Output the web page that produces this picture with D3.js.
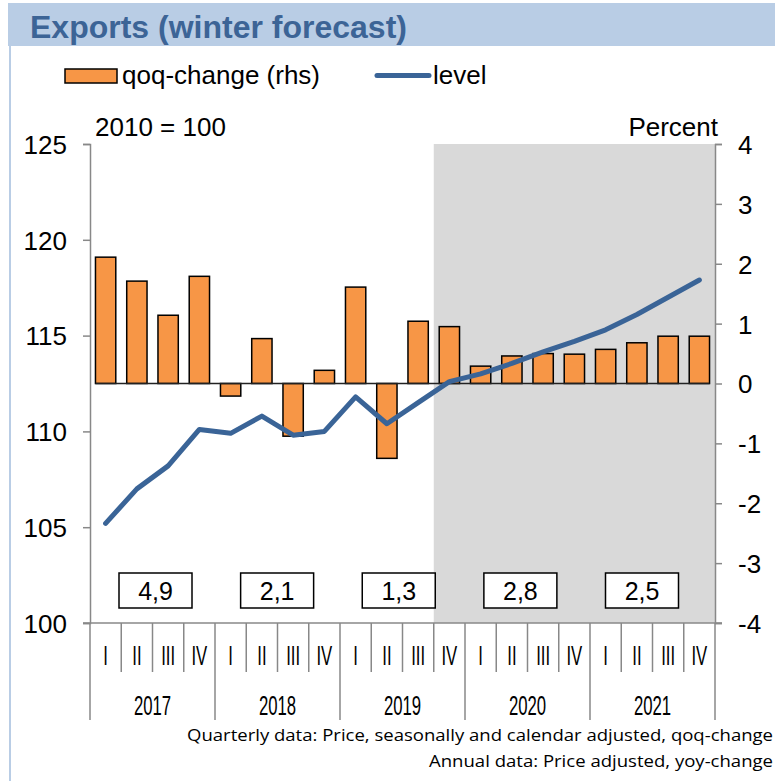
<!DOCTYPE html>
<html>
<head>
<meta charset="utf-8">
<script src="https://cdn.jsdelivr.net/npm/d3@7/dist/d3.min.js"></script>
<style>
  html, body { margin: 0; padding: 0; background: #fff; }
  svg { display: block; }
  text { font-family: "Liberation Sans", Arial, sans-serif; fill: #000; }
</style>
</head>
<body>
<svg id="chart" width="775" height="781"></svg>
<script>
// Quarters 2017 I – 2021 IV
const years = ["2017", "2018", "2019", "2020", "2021"];
const quarterNames = ["I", "II", "III", "IV"];

// Quarter-on-quarter change, percent (right axis)
const qoqChange = [2.11, 1.71, 1.14, 1.79, -0.21, 0.75, -0.88, 0.22, 1.61, -1.25,
                   1.04, 0.95, 0.29, 0.46, 0.50, 0.49, 0.57, 0.68, 0.79, 0.79];

// Export level, 2010 = 100 (left axis)
const level = [105.2, 107.0, 108.2, 110.1, 109.9, 110.8, 109.8, 110.0, 111.8, 110.4,
               111.5, 112.6, 113.0, 113.55, 114.15, 114.7, 115.3, 116.1, 117.0, 117.9];

// Annual yoy-change, percent
const annualChange = [4.9, 2.1, 1.3, 2.8, 2.5];

// Forecast period starts with this quarter index (2019 IV)
const forecastStart = 11;

const leftTicks = [100, 105, 110, 115, 120, 125];
const rightTicks = [-4, -3, -2, -1, 0, 1, 2, 3, 4];

const quarters = [];
years.forEach(y => quarterNames.forEach(q => quarters.push(y + "-" + q)));

const svg = d3.select("#chart");

const plot = { left: 90, right: 715, top: 144, bottom: 623 };
const axisGrey = "#888888";
const lineBlue = "#3a6497";
const barOrange = "#f79646";

// Title band and frame
svg.append("rect").attr("x", 8).attr("y", 3).attr("width", 767).attr("height", 43)
  .attr("fill", "#b9cde5");
svg.append("line").attr("x1", 10).attr("x2", 10).attr("y1", 46).attr("y2", 781)
  .attr("stroke", "#b9cde5").attr("stroke-width", 2);
svg.append("text").attr("x", 30).attr("y", 38)
  .attr("font-size", 32).attr("font-weight", "bold")
  .style("fill", "#3c6496")
  .text("Exports (winter forecast)");

// Scales
const x = d3.scaleBand().domain(quarters).range([plot.left, plot.right]).paddingInner(0.35).paddingOuter(0.175);
const step = x.step();
const yLeft = d3.scaleLinear().domain([100, 125]).range([plot.bottom, plot.top]);
const yRight = d3.scaleLinear().domain([-4, 4]).range([plot.bottom, plot.top]);
const xYear = d3.scaleBand().domain(years).range([plot.left, plot.right]);
const xBox = d3.scalePoint().domain(years).range([155.5, 642]);

// Forecast shading
svg.append("rect")
  .attr("x", plot.left + forecastStart * step)
  .attr("y", plot.top)
  .attr("width", plot.right - (plot.left + forecastStart * step))
  .attr("height", plot.bottom - plot.top)
  .attr("fill", "#d9d9d9");

// Left axis
const gLeft = svg.append("g").attr("transform", `translate(${plot.left},0)`)
  .call(d3.axisLeft(yLeft).tickValues(leftTicks).tickSize(7).tickPadding(16).tickFormat(d3.format("d")));
gLeft.select(".domain").attr("stroke", axisGrey).attr("stroke-width", 1.5);
gLeft.selectAll(".tick line").attr("stroke", axisGrey).attr("stroke-width", 1.5);
gLeft.selectAll(".tick text").attr("font-size", 26).attr("font-family", "Liberation Sans, Arial, sans-serif").attr("dy", "0.36em");

// Right axis
const gRight = svg.append("g").attr("transform", `translate(${plot.right},0)`)
  .call(d3.axisRight(yRight).tickValues(rightTicks).tickSize(7).tickPadding(16)
    .tickFormat(d => d < 0 ? "-" + Math.abs(d) : String(d)));
gRight.select(".domain").attr("stroke", axisGrey).attr("stroke-width", 1.5);
gRight.selectAll(".tick line").attr("stroke", axisGrey).attr("stroke-width", 1.5);
gRight.selectAll(".tick text").attr("font-size", 26).attr("font-family", "Liberation Sans, Arial, sans-serif").attr("dy", "0.36em");

// Bottom axis line
svg.append("line").attr("x1", plot.left - 7).attr("x2", plot.right + 7)
  .attr("y1", plot.bottom).attr("y2", plot.bottom)
  .attr("stroke", axisGrey).attr("stroke-width", 1.5);

// Category separators: short between quarters, long between years
const bounds = d3.range(quarters.length + 1);
svg.append("g").selectAll("line").data(bounds).join("line")
  .attr("x1", i => plot.left + i * step)
  .attr("x2", i => plot.left + i * step)
  .attr("y1", plot.bottom)
  .attr("y2", i => i % 4 === 0 ? 720 : 672)
  .attr("stroke", axisGrey).attr("stroke-width", 1.5);

// Quarter labels
svg.append("g").selectAll("text").data(quarters).join("text")
  .attr("transform", d => `translate(${x(d) + x.bandwidth() / 2},665) scale(0.62,1)`)
  .attr("text-anchor", "middle").attr("font-size", 27)
  .text(d => d.split("-")[1]);

// Year labels
svg.append("g").selectAll("text").data(years).join("text")
  .attr("transform", d => `translate(${xYear(d) + xYear.bandwidth() / 2},715) scale(0.62,1)`)
  .attr("text-anchor", "middle").attr("font-size", 27)
  .text(d => d);

// Bars
svg.append("g").selectAll("rect").data(qoqChange).join("rect")
  .attr("x", (d, i) => x(quarters[i]))
  .attr("width", x.bandwidth())
  .attr("y", d => yRight(Math.max(0, d)))
  .attr("height", d => Math.abs(yRight(d) - yRight(0)))
  .attr("fill", barOrange)
  .attr("stroke", "#000").attr("stroke-width", 1.5);

// Zero line of the bars
svg.append("line")
  .attr("x1", x(quarters[0])).attr("x2", x(quarters[quarters.length - 1]) + x.bandwidth())
  .attr("y1", yRight(0)).attr("y2", yRight(0))
  .attr("stroke", "#222").attr("stroke-width", 1.5);

// Level line
const lineGen = d3.line()
  .x((d, i) => x(quarters[i]) + x.bandwidth() / 2)
  .y(d => yLeft(d));
svg.append("path").datum(level)
  .attr("d", lineGen)
  .attr("fill", "none").attr("stroke", lineBlue).attr("stroke-width", 5)
  .attr("stroke-linejoin", "round").attr("stroke-linecap", "round");

// Annual change boxes
const boxW = 73, boxH = 35, boxTop = 573;
const boxes = svg.append("g").selectAll("g").data(annualChange).join("g")
  .attr("transform", (d, i) => `translate(${xBox(years[i])},${boxTop})`);
boxes.append("rect")
  .attr("x", -boxW / 2).attr("y", 0).attr("width", boxW).attr("height", boxH)
  .attr("fill", "#fff").attr("stroke", "#000").attr("stroke-width", 1.5);
boxes.append("text")
  .attr("x", 0).attr("y", 27).attr("text-anchor", "middle").attr("font-size", 25)
  .text(d => d.toFixed(1).replace(".", ","));

// Axis captions
svg.append("text").attr("x", 95).attr("y", 136).attr("font-size", 26).text("2010 = 100");
svg.append("text").attr("x", 718).attr("y", 136).attr("font-size", 26)
  .attr("text-anchor", "end").text("Percent");

// Legend
svg.append("rect").attr("x", 65).attr("y", 69).attr("width", 52).attr("height", 14)
  .attr("fill", barOrange).attr("stroke", "#000").attr("stroke-width", 1.5);
svg.append("text").attr("x", 122).attr("y", 84).attr("font-size", 26).text("qoq-change (rhs)");
svg.append("line").attr("x1", 377).attr("x2", 429).attr("y1", 75.5).attr("y2", 75.5)
  .attr("stroke", lineBlue).attr("stroke-width", 5).attr("stroke-linecap", "round");
svg.append("text").attr("x", 433).attr("y", 84).attr("font-size", 26).text("level");

// Footnotes
const footFont = "'Open Sans', sans-serif";
svg.append("text").attr("x", 187).attr("y", 741)
  .attr("font-size", 17).style("font-family", footFont)
  .attr("textLength", 586).attr("lengthAdjust", "spacingAndGlyphs")
  .text("Quarterly data: Price, seasonally and calendar adjusted, qoq-change");
svg.append("text").attr("x", 429).attr("y", 767)
  .attr("font-size", 17).style("font-family", footFont)
  .attr("textLength", 344).attr("lengthAdjust", "spacingAndGlyphs")
  .text("Annual data: Price adjusted, yoy-change");
</script>
</body>
</html>
